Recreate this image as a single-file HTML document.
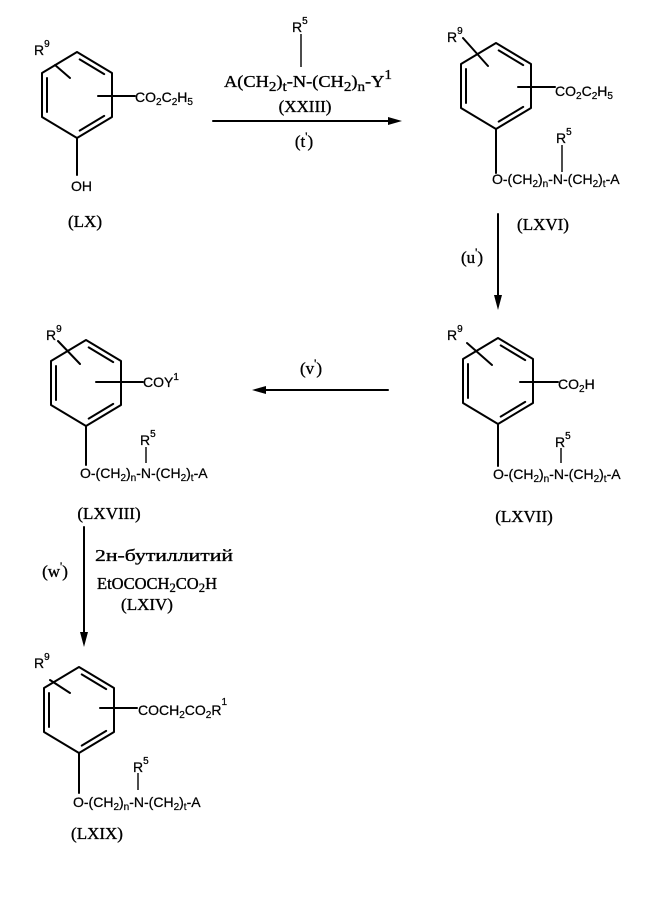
<!DOCTYPE html>
<html><head><meta charset="utf-8"><style>
html,body{margin:0;padding:0;background:#fff;}
svg{display:block;}
.b{stroke:#000;stroke-width:2;fill:none;stroke-linecap:round;stroke-linejoin:round}
.n{stroke:#000;stroke-width:1.4;fill:none}
.s{font-family:"Liberation Sans",sans-serif;font-size:14px;fill:#000;stroke:#000;stroke-width:0.25}
.t{font-family:"Liberation Serif",serif;font-size:17px;fill:#000;stroke:#000;stroke-width:0.35}
</style></head><body>
<svg width="662" height="899" viewBox="0 0 662 899" xmlns="http://www.w3.org/2000/svg">
<rect width="662" height="899" fill="#fff"/>

<!-- (LX) -->
<path class="b" transform="translate(77,95)" d="M0,-43 L35,-22 L35,22 L0,43 L-35,22 L-35,-22 Z M-30,-17 L-30,17 M2.7,-35.6 L27.2,-20.9 M27.2,20.9 L2.7,35.6"/>
<path class="b" d="M55,65 L70,78 M98,96 L135,96 M77,138 L77,175"/>
<text class="s" x="34" y="55">R<tspan dy="-8" font-size="10">9</tspan></text>
<text class="s" x="135" y="102">CO<tspan dy="3" font-size="10">2</tspan><tspan dy="-3">C</tspan><tspan dy="3" font-size="10">2</tspan><tspan dy="-3">H</tspan><tspan dy="3" font-size="10">5</tspan></text>
<text class="s" x="71" y="191">OH</text>
<text class="t" x="85" y="227" text-anchor="middle">(LX)</text>

<!-- top reagent + arrow -->
<text class="s" x="292" y="32">R<tspan dy="-8" font-size="10">5</tspan></text>
<path class="n" d="M301,34 L301,67"/>
<text class="t" x="224" y="87" font-size="22" stroke-width="0.3" textLength="168" lengthAdjust="spacingAndGlyphs">A(CH<tspan dy="4" font-size="14">2</tspan><tspan dy="-4">)</tspan><tspan dy="4" font-size="14">t</tspan><tspan dy="-4">-N-(CH</tspan><tspan dy="4" font-size="14">2</tspan><tspan dy="-4">)</tspan><tspan dy="4" font-size="14">n</tspan><tspan dy="-4">-Y</tspan><tspan dy="-8" font-size="14">1</tspan></text>
<text class="t" x="305" y="112" text-anchor="middle" font-size="16">(XXIII)</text>
<path class="b" d="M213,121 L392,121"/>
<polygon points="402,121 388,117 388,125" fill="#000"/>
<text class="t" x="304" y="147" text-anchor="middle" font-size="20">(t<tspan dy="-7" font-size="12">'</tspan><tspan dy="7">)</tspan></text>

<!-- (LXVI) -->
<path class="b" transform="translate(496,86)" d="M0,-43 L35,-22 L35,22 L0,43 L-35,22 L-35,-22 Z M-30,-17 L-30,17 M2.7,-35.6 L27.2,-20.9 M27.2,20.9 L2.7,35.6"/>
<path class="b" d="M463,38 L488,66 M518,87 L555,87 M496,129 L496,173"/>
<path class="n" d="M562,145 L562,172"/>
<text class="s" x="447" y="42">R<tspan dy="-8" font-size="10">9</tspan></text>
<text class="s" x="555" y="96">CO<tspan dy="3" font-size="10">2</tspan><tspan dy="-3">C</tspan><tspan dy="3" font-size="10">2</tspan><tspan dy="-3">H</tspan><tspan dy="3" font-size="10">5</tspan></text>
<text class="s" x="556" y="143">R<tspan dy="-8" font-size="10">5</tspan></text>
<text class="s" x="492" y="184">O-(CH<tspan dy="3" font-size="10">2</tspan><tspan dy="-3">)</tspan><tspan dy="3" font-size="10">n</tspan><tspan dy="-3">-N-(CH</tspan><tspan dy="3" font-size="10">2</tspan><tspan dy="-3">)</tspan><tspan dy="3" font-size="10">t</tspan><tspan dy="-3">-A</tspan></text>
<text class="t" x="543" y="230" text-anchor="middle">(LXVI)</text>

<!-- arrow u' -->
<path class="b" d="M498,214 L498,298"/>
<polygon points="498,310 494,295 502,295" fill="#000"/>
<text class="t" x="472" y="263" text-anchor="middle" font-size="19">(u<tspan dy="-7" font-size="12">'</tspan><tspan dy="7">)</tspan></text>

<!-- (LXVII) -->
<path class="b" transform="translate(498,381)" d="M0,-43 L35,-22 L35,22 L0,43 L-35,22 L-35,-22 Z M-30,-17 L-30,17 M2.7,-35.6 L27.2,-20.9 M27.2,20.9 L2.7,35.6"/>
<path class="b" d="M467,343 L492,365 M520,382 L558,382 M498,424 L498,466"/>
<path class="n" d="M561,448 L561,463"/>
<text class="s" x="447" y="340">R<tspan dy="-8" font-size="10">9</tspan></text>
<text class="s" x="558" y="389">CO<tspan dy="3" font-size="10">2</tspan><tspan dy="-3">H</tspan></text>
<text class="s" x="555" y="447">R<tspan dy="-8" font-size="10">5</tspan></text>
<text class="s" x="493" y="479">O-(CH<tspan dy="3" font-size="10">2</tspan><tspan dy="-3">)</tspan><tspan dy="3" font-size="10">n</tspan><tspan dy="-3">-N-(CH</tspan><tspan dy="3" font-size="10">2</tspan><tspan dy="-3">)</tspan><tspan dy="3" font-size="10">t</tspan><tspan dy="-3">-A</tspan></text>
<text class="t" x="524" y="522" text-anchor="middle">(LXVII)</text>

<!-- arrow v' -->
<path class="b" d="M264,390 L388,390"/>
<polygon points="252,390 266,386 266,394" fill="#000"/>
<text class="t" x="311" y="374" text-anchor="middle" font-size="19">(v<tspan dy="-7" font-size="12">'</tspan><tspan dy="7">)</tspan></text>

<!-- (LXVIII) -->
<path class="b" transform="translate(86,383)" d="M0,-43 L35,-22 L35,22 L0,43 L-35,22 L-35,-22 Z M-30,-17 L-30,17 M2.7,-35.6 L27.2,-20.9 M27.2,20.9 L2.7,35.6"/>
<path class="b" d="M58,341 L80,364 M96,382 L143,382 M86,426 L86,465"/>
<path class="n" d="M146,447 L146,463"/>
<text class="s" x="46" y="340">R<tspan dy="-8" font-size="10">9</tspan></text>
<text class="s" x="143" y="387">COY<tspan dy="-7" font-size="10">1</tspan></text>
<text class="s" x="140" y="445">R<tspan dy="-8" font-size="10">5</tspan></text>
<text class="s" x="80" y="478">O-(CH<tspan dy="3" font-size="10">2</tspan><tspan dy="-3">)</tspan><tspan dy="3" font-size="10">n</tspan><tspan dy="-3">-N-(CH</tspan><tspan dy="3" font-size="10">2</tspan><tspan dy="-3">)</tspan><tspan dy="3" font-size="10">t</tspan><tspan dy="-3">-A</tspan></text>
<text class="t" x="109" y="519" text-anchor="middle">(LXVIII)</text>

<!-- arrow w' -->
<path class="b" d="M84,527 L84,635"/>
<polygon points="84,647 80,632 88,632" fill="#000"/>
<text class="t" x="55" y="577" text-anchor="middle" font-size="19">(w<tspan dy="-7" font-size="12">'</tspan><tspan dy="7">)</tspan></text>
<text class="t" x="95" y="561" font-size="21" stroke-width="0.5" textLength="138" lengthAdjust="spacingAndGlyphs">2н-бутиллитий</text>
<text class="t" x="97" y="589" font-size="19" textLength="120" lengthAdjust="spacingAndGlyphs">EtOCOCH<tspan dy="3" font-size="13">2</tspan><tspan dy="-3">CO</tspan><tspan dy="3" font-size="13">2</tspan><tspan dy="-3">H</tspan></text>
<text class="t" x="147" y="610" text-anchor="middle">(LXIV)</text>

<!-- (LXIX) -->
<path class="b" transform="translate(79,710)" d="M0,-43 L35,-22 L35,22 L0,43 L-35,22 L-35,-22 Z M-30,-17 L-30,17 M2.7,-35.6 L27.2,-20.9 M27.2,20.9 L2.7,35.6"/>
<path class="b" d="M50,680 L70,693 M100,708 L137,708 M79,753 L79,793"/>
<path class="n" d="M138,773 L138,790"/>
<text class="s" x="34" y="668">R<tspan dy="-8" font-size="10">9</tspan></text>
<text class="s" x="138" y="715">COCH<tspan dy="3" font-size="10">2</tspan><tspan dy="-3">CO</tspan><tspan dy="3" font-size="10">2</tspan><tspan dy="-3">R</tspan><tspan dy="-10" font-size="10">1</tspan></text>
<text class="s" x="133" y="772">R<tspan dy="-8" font-size="10">5</tspan></text>
<text class="s" x="73" y="807">O-(CH<tspan dy="3" font-size="10">2</tspan><tspan dy="-3">)</tspan><tspan dy="3" font-size="10">n</tspan><tspan dy="-3">-N-(CH</tspan><tspan dy="3" font-size="10">2</tspan><tspan dy="-3">)</tspan><tspan dy="3" font-size="10">t</tspan><tspan dy="-3">-A</tspan></text>
<text class="t" x="97" y="839" text-anchor="middle">(LXIX)</text>
</svg>
</body></html>
